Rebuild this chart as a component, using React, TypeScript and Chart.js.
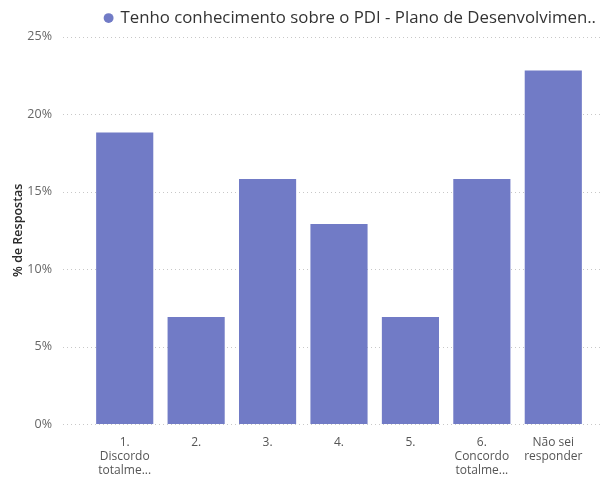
import React, { useEffect, useRef } from "react";
import { Chart, registerables } from "chart.js";

Chart.register(...registerables);

const categories: string[][] = [
  ["1.", "Discordo", "totalme..."],
  ["2."],
  ["3."],
  ["4."],
  ["5."],
  ["6.", "Concordo", "totalme..."],
  ["Não sei", "responder"],
];
const values: number[] = [18.8, 6.9, 15.8, 12.9, 6.9, 15.8, 22.8];
const seriesLabel = "Tenho conhecimento sobre o PDI - Plano de Desenvolvimen..";
const yTicks: number[] = [0, 5, 10, 15, 20, 25];
const yTitle = "% de Respostas";

const FONT = "'Open Sans', 'Noto Sans', sans-serif";

const dottedGrid = {
  id: "dottedGrid",
  beforeDatasetsDraw(chart: any) {
    const { ctx } = chart;
    const y = chart.scales.y;
    ctx.save();
    ctx.strokeStyle = "#c8c8c8";
    ctx.lineWidth = 1;
    ctx.setLineDash([1, 3]);
    for (const v of yTicks) {
      const py = Math.round(y.getPixelForValue(v)) + 0.5;
      ctx.beginPath();
      ctx.moveTo(63, py);
      ctx.lineTo(600, py);
      ctx.stroke();
    }
    ctx.restore();
  },
};

export default function App() {
  const ref = useRef<HTMLCanvasElement>(null);
  useEffect(() => {
    const chart = new Chart(ref.current!, {
      type: "bar",
      data: {
        labels: categories,
        datasets: [
          {
            label: seriesLabel,
            data: values,
            backgroundColor: "#717bc6",
            borderWidth: 0,
            barPercentage: 0.8,
            categoryPercentage: 1,
          },
        ],
      },
      options: {
        animation: false,
        responsive: false,
        maintainAspectRatio: false,
        layout: { padding: { left: 0, right: 0, top: 0, bottom: 0 } },
        plugins: {
          tooltip: { enabled: false },
          legend: {
            position: "top",
            align: "end",
            labels: {
              usePointStyle: true,
              pointStyle: "circle",
              boxWidth: 7,
              boxHeight: 7,
              padding: 6,
              color: "#333333",
              font: { family: FONT, size: 16.8 },
            },
          },
        },
        scales: {
          x: {
            afterFit: (s: any) => {
              s.height = 53;
            },
            grid: { display: false },
            border: { display: false },
            ticks: {
              color: "#555555",
              font: { family: FONT, size: 12 },
              maxRotation: 0,
              autoSkip: false,
              padding: 3,
            },
          },
          y: {
            min: 0,
            max: 25,
            afterFit: (s: any) => {
              s.width = 89;
            },
            afterBuildTicks: (s: any) => {
              s.ticks = yTicks.map((v) => ({ value: v }));
            },
            grid: { display: false },
            border: { display: false },
            title: {
              display: true,
              text: yTitle,
              color: "#2a2a2a",
              font: { family: FONT, size: 12.5, weight: "600" },
              padding: { top: 11, bottom: 0 },
            },
            ticks: {
              color: "#666666",
              font: { family: FONT, size: 12.5 },
              padding: 29,
              callback: (v: any) => v + "%",
            },
          },
          yRight: {
            position: "right",
            display: true,
            afterFit: (s: any) => {
              s.width = 13;
            },
            grid: { display: false },
            border: { display: false },
            ticks: { display: false },
          },
        },
      },
      plugins: [dottedGrid],
    });
    return () => chart.destroy();
  }, []);
  return (
    <div style={{ position: "fixed", left: 0, top: 0, width: 602, height: 477, background: "#fff" }}>
      <canvas ref={ref} width={602} height={477} />
    </div>
  );
}
